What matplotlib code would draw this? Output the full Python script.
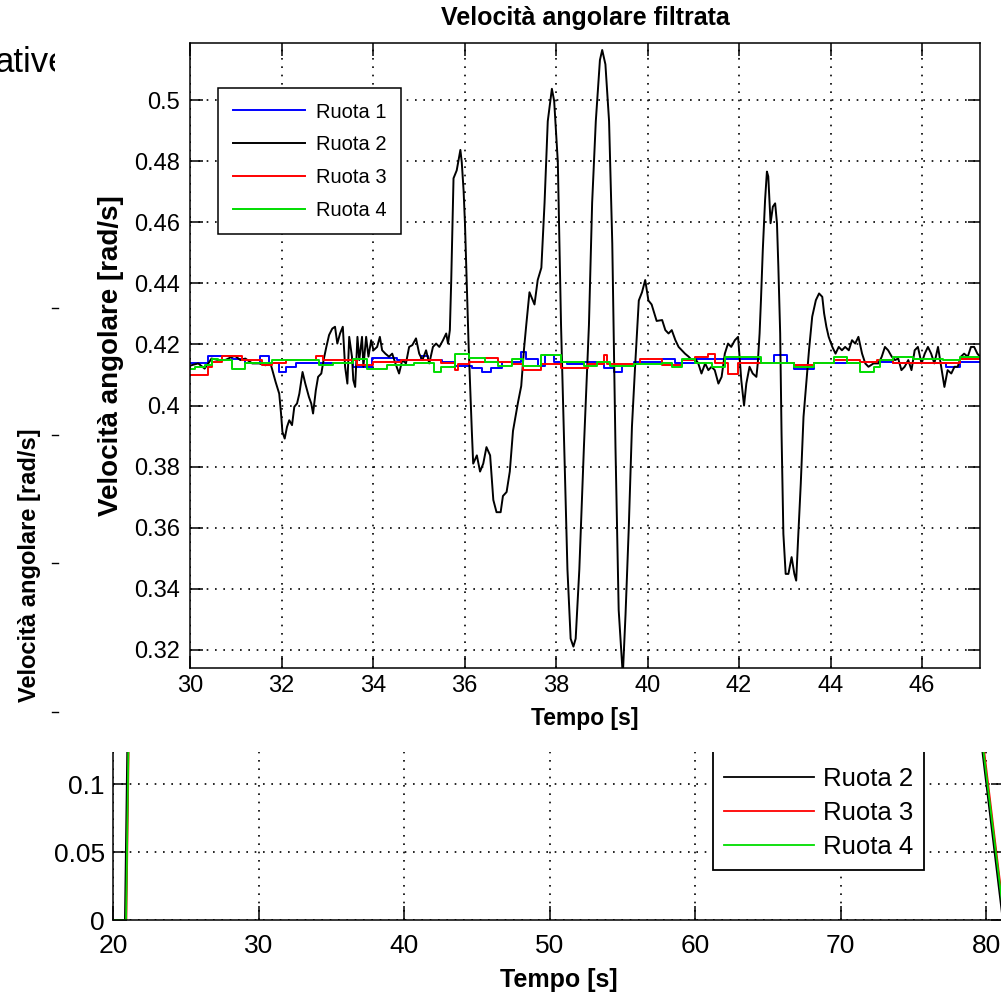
import matplotlib
matplotlib.use('Agg')
import matplotlib.pyplot as plt
from matplotlib.lines import Line2D
from matplotlib.patches import Rectangle
from matplotlib.ticker import FuncFormatter

plt.rcParams['font.family'] = ['Liberation Sans', 'DejaVu Sans']

W, H = 1001, 996
def fx(p):
    return p / W
def fy(p):
    return 1 - p / H

# ---------------- data: front figure (filtered angular velocity) ----------------
labels = ['Ruota 1', 'Ruota 2', 'Ruota 3', 'Ruota 4']
colors = ['#0000ff', '#000000', '#ff0000', '#00dd00']

# Ruota 2 (black)
t2 = [30.00, 30.03, 30.18, 30.32, 30.40, 30.47, 30.62, 30.77, 30.92, 30.99,
      31.10, 31.21, 31.36, 31.51, 31.65, 31.76, 31.82, 31.87, 31.95, 31.99,
      32.02, 32.07, 32.12, 32.17, 32.23, 32.28, 32.34, 32.39, 32.46, 32.52,
      32.60, 32.65, 32.69, 32.75, 32.80, 32.87, 32.92, 32.98, 33.04, 33.11,
      33.17, 33.22, 33.28, 33.34, 33.39, 33.44, 33.48, 33.54, 33.57, 33.61,
      33.66, 33.70, 33.76, 33.79, 33.85, 33.90, 33.96, 34.01, 34.09, 34.15,
      34.20, 34.27, 34.35, 34.42, 34.49, 34.57, 34.64, 34.72, 34.79, 34.86,
      34.94, 35.01, 35.08, 35.16, 35.23, 35.31, 35.38, 35.45, 35.53, 35.60,
      35.64, 35.68, 35.71, 35.76, 35.83, 35.91, 35.94, 35.98, 36.01, 36.09,
      36.16, 36.19, 36.27, 36.34, 36.41, 36.48, 36.56, 36.63, 36.70, 36.79,
      36.84, 36.92, 36.99, 37.06, 37.17, 37.24, 37.30, 37.35, 37.42, 37.53,
      37.60, 37.68, 37.75, 37.82, 37.91, 37.96, 38.04, 38.11, 38.18, 38.25,
      38.32, 38.38, 38.43, 38.51, 38.61, 38.72, 38.79, 38.87, 38.96, 39.01,
      39.08, 39.16, 39.23, 39.30, 39.37, 39.46, 39.52, 39.59, 39.66, 39.73,
      39.81, 39.88, 39.95, 40.02, 40.09, 40.20, 40.32, 40.39, 40.46, 40.53,
      40.61, 40.68, 40.75, 40.82, 40.90, 40.97, 41.04, 41.11, 41.18, 41.26,
      41.33, 41.40, 41.47, 41.55, 41.62, 41.69, 41.76, 41.83, 41.91, 41.98,
      42.05, 42.11, 42.16, 42.23, 42.30, 42.38, 42.41, 42.45, 42.48, 42.52,
      42.57, 42.61, 42.64, 42.69, 42.74, 42.79, 42.83, 42.86, 42.90, 42.93,
      42.97, 43.02, 43.08, 43.15, 43.21, 43.25, 43.29, 43.35, 43.41, 43.47,
      43.53, 43.60, 43.68, 43.75, 43.82, 43.86, 43.91, 43.96, 44.04, 44.11,
      44.18, 44.25, 44.32, 44.40, 44.47, 44.54, 44.61, 44.69, 44.76, 44.83,
      44.94, 45.05, 45.12, 45.19, 45.26, 45.34, 45.41, 45.48, 45.55, 45.62,
      45.70, 45.77, 45.84, 45.91, 45.99, 46.06, 46.13, 46.20, 46.27, 46.35,
      46.42, 46.49, 46.56, 46.64, 46.71, 46.78, 46.85, 46.92, 47.00, 47.07,
      47.14, 47.21, 47.27]
v2 = [.4130, .4132, .4138, .4121, .4138, .4154, .4149, .4149, .4160, .4162,
      .4149, .4154, .4138, .4138, .4132, .4138, .4105, .4078, .4039, .3974,
      .3914, .3892, .3930, .3952, .3936, .3996, .4007, .4039, .4110, .4072,
      .4028, .4007, .3974, .4050, .4094, .4105, .4149, .4192, .4231, .4252,
      .4258, .4203, .4236, .4258, .4127, .4072, .4225, .4160, .4083, .4061,
      .4225, .4149, .4225, .4127, .4225, .4160, .4214, .4181, .4192, .4225,
      .4181, .4170, .4160, .4170, .4138, .4105, .4149, .4138, .4192, .4198,
      .4220, .4170, .4149, .4181, .4138, .4192, .4203, .4192, .4214, .4236,
      .4203, .4247, .4410, .4744, .4770, .4837, .4797, .4704, .4597, .4197,
      .3917, .3810, .3837, .3784, .3810, .3864, .3837, .3691, .3651, .3651,
      .3704, .3717, .3784, .3917, .4011, .4064, .4184, .4264, .4371, .4331,
      .4411, .4451, .4664, .4931, .5037, .4997, .4797, .4264, .3864, .3464,
      .3237, .3211, .3237, .3464, .3864, .4264, .4664, .4931, .5131, .5164,
      .5117, .4931, .4531, .3864, .3331, .3117, .3317, .3597, .3931, .4131,
      .4344, .4371, .4411, .4344, .4331, .4277, .4280, .4247, .4236, .4247,
      .4214, .4192, .4181, .4170, .4160, .4149, .4154, .4138, .4105, .4138,
      .4116, .4127, .4116, .4072, .4094, .4170, .4203, .4192, .4214, .4225,
      .4083, .4000, .4072, .4127, .4105, .4094, .4138, .4236, .4345, .4509,
      .4673, .4766, .4750, .4597, .4651, .4662, .4597, .4455, .4236, .3908,
      .3580, .3449, .3449, .3504, .3449, .3427, .3558, .3744, .3963, .4072,
      .4181, .4291, .4345, .4367, .4356, .4302, .4258, .4225, .4192, .4170,
      .4192, .4181, .4192, .4181, .4214, .4203, .4225, .4170, .4138, .4127,
      .4138, .4138, .4160, .4192, .4181, .4160, .4149, .4154, .4116, .4127,
      .4149, .4116, .4181, .4192, .4138, .4170, .4192, .4170, .4138, .4192,
      .4127, .4061, .4116, .4105, .4127, .4127, .4160, .4170, .4160, .4192,
      .4192, .4170, .4160]

# Ruota 1 (blue) - step changes
t1 = [30.00, 30.40, 30.92, 31.21, 31.54, 31.73, 31.95, 32.10, 32.32, 33.57,
      33.98, 34.53, 35.05, 35.20, 35.51, 35.80, 36.16, 36.38, 36.59, 36.81,
      37.24, 37.35, 37.60, 37.75, 37.96, 38.25, 38.61, 39.05, 39.26, 39.44,
      39.70, 40.32, 40.61, 41.04, 42.48, 42.77, 43.06, 43.21, 43.64, 44.65,
      45.37, 46.53, 46.82, 47.27]
v1 = [.4138, .4162, .4154, .4138, .4162, .4138, .4110, .4127, .4138, .4127,
      .4157, .4149, .4162, .4149, .4144, .4131, .4124, .4111, .4124, .4144,
      .4177, .4151, .4131, .4164, .4144, .4137, .4144, .4124, .4111, .4131,
      .4144, .4154, .4138, .4154, .4138, .4165, .4138, .4121, .4138, .4143,
      .4138, .4127, .4143, .4143]

# Ruota 3 (red)
t3 = [30.00, 30.40, 30.47, 30.69, 31.14, 31.58, 31.80, 32.10, 32.76, 32.91,
      33.65, 34.01, 34.61, 35.49, 35.79, 35.86, 36.09, 36.45, 36.74, 37.03,
      37.28, 37.68, 38.11, 38.69, 39.05, 39.12, 39.84, 40.32, 40.75, 41.04,
      41.33, 41.47, 41.76, 41.98, 43.21, 43.64, 44.07, 44.65, 45.01, 45.37,
      46.82, 47.27]
v3 = [.4099, .4127, .4143, .4162, .4149, .4132, .4138, .4149, .4162, .4149,
      .4132, .4143, .4149, .4138, .4116, .4137, .4144, .4157, .4144, .4137,
      .4117, .4137, .4124, .4137, .4164, .4137, .4151, .4132, .4149, .4160,
      .4170, .4138, .4105, .4138, .4132, .4138, .4149, .4143, .4149, .4138,
      .4154, .4154]

# Ruota 4 (green)
t4 = [30.00, 30.10, 30.32, 30.47, 30.62, 30.92, 31.21, 31.80, 32.83, 33.13,
      33.57, 33.87, 34.31, 34.90, 35.34, 35.49, 35.79, 36.09, 36.45, 36.74,
      37.03, 37.28, 37.68, 38.11, 38.61, 38.90, 39.19, 39.70, 40.32, 40.53,
      40.75, 41.04, 41.40, 41.69, 42.48, 43.21, 43.64, 44.07, 44.36, 44.65,
      44.94, 45.08, 45.37, 45.81, 46.45, 46.82, 47.27]
v4 = [.4121, .4127, .4132, .4154, .4149, .4121, .4138, .4149, .4132, .4138,
      .4154, .4121, .4132, .4138, .4110, .4127, .4168, .4157, .4144, .4131,
      .4151, .4131, .4164, .4144, .4131, .4144, .4131, .4137, .4138, .4127,
      .4154, .4138, .4127, .4160, .4138, .4127, .4138, .4160, .4138, .4110,
      .4127, .4149, .4160, .4154, .4149, .4160, .4160]

main_xticks = [30, 32, 34, 36, 38, 40, 42, 44, 46]
main_yticks = [0.32, 0.34, 0.36, 0.38, 0.40, 0.42, 0.44, 0.46, 0.48, 0.50]

# ---------------- data: background figure (raw angular velocity) ----------------
bt1 = [20.0, 20.88, 21.40, 76.55, 81.22]
bv1 = [0.0, 0.0, 0.413, 0.413, 0.0]
bt2 = [20.0, 20.82, 21.35, 76.45, 81.15]
bv2 = [0.0, 0.0, 0.416, 0.416, 0.0]
bt3 = [20.0, 20.92, 21.44, 76.60, 81.28]
bv3 = [0.0, 0.0, 0.414, 0.414, 0.0]
bt4 = [20.0, 20.90, 21.42, 76.50, 81.25]
bv4 = [0.0, 0.0, 0.414, 0.414, 0.0]
back_xticks = [20, 30, 40, 50, 60, 70, 80]
back_yticks = [0, 0.05, 0.1]

fmt = FuncFormatter(lambda v, p: ('%g' % round(v, 4)))
grid_kw = dict(color='k', linestyle=(0, (1, 4)), linewidth=1.2)

fig = plt.figure(figsize=(W / 100, H / 100), dpi=100)
fig.patch.set_facecolor('white')

# ---------- background figure axes ----------
bx = fig.add_axes([fx(113), fy(920), (1005 - 113) / W, (920 - 210) / H], zorder=0)
for t, v, c, lab in zip([bt1, bt2, bt3, bt4], [bv1, bv2, bv3, bv4], colors, labels):
    bx.plot(t, v, color=c, lw=1.3, label=lab)
bx.set_xlim(20, 20 + (1005 - 113) / 14.55)
bx.set_ylim(0, (920 - 210) / 1360)
bx.set_xticks(back_xticks)
bx.set_yticks(back_yticks)
bx.yaxis.set_major_formatter(fmt)
bx.grid(True, **grid_kw)
bx.tick_params(direction='in', length=10, width=1.1, top=True, right=True,
               labelsize=19, pad=6)
bx.tick_params(axis='x', pad=10)
for s in bx.spines.values():
    s.set_linewidth(1.1)
bx.set_xlabel('Tempo [s]', fontsize=18, fontweight='bold')
bx.xaxis.set_label_coords(0.5, -(980 - 920) / 710)
bx.xaxis.label.set_va('center')
bx.set_ylabel('Velocità angolare [rad/s]', fontsize=17, fontweight='bold')
bx.yaxis.set_label_coords((30 - 113) / 892, 0.5)
bx.yaxis.label.set_va('center')
bx.yaxis.label.set_ha('center')
bleg = bx.legend(loc='lower right', bbox_to_anchor=(fx(924), fy(870)),
                 bbox_transform=fig.transFigure, fontsize=18.5, frameon=True,
                 fancybox=False, edgecolor='k', framealpha=1, borderaxespad=0,
                 handlelength=3.5, handletextpad=0.35, labelspacing=0.4,
                 borderpad=0.42)
bleg.get_frame().set_linewidth(1.3)

# slide text behind everything
fig.text(fx(-6), fy(72), 'ative', fontsize=25, ha='left', va='baseline',
         color='k', zorder=0.5)

# front window background
fig.add_artist(Rectangle((fx(55), fy(752)), 1 - fx(55), 752 / H,
                         transform=fig.transFigure, facecolor='white',
                         edgecolor='none', zorder=1))
for yy in [308, 435, 563, 712]:
    fig.add_artist(Line2D([fx(52), fx(58)], [fy(yy), fy(yy)], color='k',
                          lw=1.0, transform=fig.transFigure, zorder=1.5))

# ---------- front figure axes ----------
ax = fig.add_axes([fx(190), fy(668), (980 - 190) / W, (668 - 43) / H], zorder=2)
lines = []
for t, v, c, lab in zip([t1, t2, t3, t4], [v1, v2, v3, v4], colors, labels):
    ds = 'default' if lab == 'Ruota 2' else 'steps-post'
    ln, = ax.plot(t, v, color=c, lw=1.4, label=lab, drawstyle=ds)
    lines.append(ln)
ax.set_xlim(30, 30 + (980 - 190) / 45.75)
ax.set_ylim(0.32 - 18 / 3050, 0.4 + (405 - 43) / 3050)
ax.set_xticks(main_xticks)
ax.set_yticks(main_yticks)
ax.yaxis.set_major_formatter(fmt)
ax.grid(True, **grid_kw)
ax.tick_params(direction='in', length=9, width=1.1, top=True, right=True,
               labelsize=17)
ax.tick_params(axis='y', pad=7)
ax.tick_params(axis='x', pad=5)
for s in ax.spines.values():
    s.set_linewidth(1.1)
ax.set_title('Velocità angolare filtrata', fontsize=18, fontweight='bold',
             y=(668 - 18) / 625, va='center', pad=0)
ax.set_xlabel('Tempo [s]', fontsize=16.5, fontweight='bold')
ax.xaxis.set_label_coords(0.5, -(718 - 668) / 625)
ax.xaxis.label.set_va('center')
ax.set_ylabel('Velocità angolare [rad/s]', fontsize=20, fontweight='bold')
ax.yaxis.set_label_coords((111 - 190) / 790, 0.5)
ax.yaxis.label.set_va('center')
ax.yaxis.label.set_ha('center')
leg = ax.legend(lines, labels, loc='upper left', bbox_to_anchor=(fx(218), fy(88)),
                bbox_transform=fig.transFigure, fontsize=14.5, frameon=True,
                fancybox=False, edgecolor='k', framealpha=1, borderaxespad=0,
                handlelength=3.6, handletextpad=0.55, labelspacing=0.68,
                borderpad=0.72)
leg.get_frame().set_linewidth(1.1)

fig.savefig('out.png', dpi=100, facecolor='white')
